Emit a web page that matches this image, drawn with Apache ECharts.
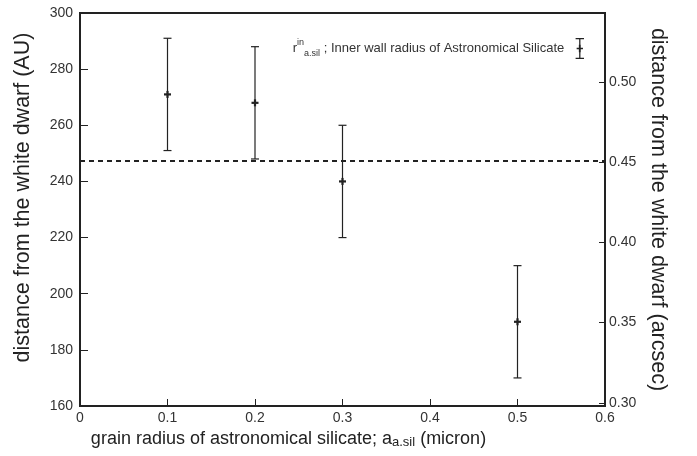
<!DOCTYPE html>
<html>
<head>
<meta charset="utf-8">
<script src="https://cdn.jsdelivr.net/npm/echarts@6/dist/echarts.min.js"></script>
<style>
  html, body { margin: 0; padding: 0; background: #fff; }
  #chart-container { width: 697px; height: 456px; }
</style>
</head>
<body>
<div id="chart-container"></div>
<script>
// grain radius (micron)
var grainRadius = [0.1, 0.2, 0.3, 0.5];
// inner wall radius (AU) and its error range
var innerRadius = [271, 268, 240, 190];
var radiusLow = [251, 248, 220, 170];
var radiusHigh = [291, 288, 260, 210];
// dashed reference distance (AU)
var refDistance = 247.4;
// right axis (arcsec) tick labels
var arcsecTicks = [0.30, 0.35, 0.40, 0.45, 0.50];

var ink = '#222';
var font = 'Liberation Sans, Arial, Helvetica, sans-serif';

var errData = [];
grainRadius.forEach(function (x, i) {
    errData.push([x, innerRadius[i], radiusLow[i], radiusHigh[i]]);
});

// error bar with a small cross at the mean
var renderErrorBar = function (params, api) {
    var mid = api.coord([api.value(0), api.value(1)]);
    var lo = api.coord([api.value(0), api.value(2)]);
    var hi = api.coord([api.value(0), api.value(3)]);
    var cap = 4;
    var line = { stroke: ink, lineWidth: 1.2 };
    var bold = { stroke: ink, lineWidth: 2.2 };
    return {
        type: 'group',
        children: [
            { type: 'line', shape: { x1: hi[0], y1: hi[1], x2: lo[0], y2: lo[1] }, style: line },
            { type: 'line', shape: { x1: hi[0] - cap, y1: hi[1], x2: hi[0] + cap, y2: hi[1] }, style: line },
            { type: 'line', shape: { x1: lo[0] - cap, y1: lo[1], x2: lo[0] + cap, y2: lo[1] }, style: line },
            { type: 'line', shape: { x1: mid[0] - 3.5, y1: mid[1], x2: mid[0] + 3.5, y2: mid[1] }, style: bold },
            { type: 'line', shape: { x1: mid[0], y1: mid[1] - 3.5, x2: mid[0], y2: mid[1] + 3.5 }, style: bold }
        ]
    };
};

var legendIcon = 'path://M0,0H8V1.2H0Z M3.4,0H4.6V20H3.4Z M0,18.8H8V20H0Z M1,9.2H7V10.8H1Z M3.1,6.5H4.9V13.5H3.1Z';

var option = {
    backgroundColor: '#fff',
    animation: false,
    textStyle: { fontFamily: font },
    grid: {
        left: 80, right: 92, top: 13, bottom: 50,
        outerBoundsMode: 'none',
        containLabel: false,
        show: true, borderColor: ink, borderWidth: 2
    },
    legend: {
        right: 108, top: 33,
        align: 'right',
        itemWidth: 9, itemHeight: 21,
        icon: legendIcon,
        itemStyle: { color: ink },
        formatter: function () {
            return 'r{sup|in}{sub|a.sil} ; Inner wall radius of Astronomical Silicate';
        },
        textStyle: {
            fontFamily: font, fontSize: 13, color: '#333', lineHeight: 20,
            padding: [0, 6, 0, 0],
            rich: {
                sup: { fontSize: 9, verticalAlign: 'top', lineHeight: 20, color: '#333', fontFamily: font },
                sub: { fontSize: 9, verticalAlign: 'bottom', lineHeight: 14, color: '#333', fontFamily: font }
            }
        },
        data: ['inner']
    },
    xAxis: {
        type: 'value',
        min: 0, max: 0.6, interval: 0.1,
        axisLine: { lineStyle: { color: ink, width: 2 } },
        axisTick: { inside: true, length: 7, lineStyle: { color: ink, width: 1 } },
        axisLabel: { color: '#333', fontSize: 14, margin: 5, fontFamily: font },
        splitLine: { show: false },
        name: 'grain radius of astronomical silicate; a{sub|a.sil} (micron)',
        nameLocation: 'middle',
        nameGap: 21,
        nameTextStyle: {
            color: '#222', fontSize: 18, fontFamily: font, padding: [0, 108, 0, 0],
            rich: { sub: { fontSize: 13, verticalAlign: 'bottom', padding: [8, 0, 0, 0], fontFamily: font, color: '#222' } }
        }
    },
    yAxis: [{
        type: 'value',
        min: 160, max: 300, interval: 20,
        axisLine: { lineStyle: { color: ink, width: 2 } },
        axisTick: { inside: true, length: 8, lineStyle: { color: ink, width: 1 } },
        axisLabel: { color: '#333', fontSize: 14, margin: 7, fontFamily: font },
        splitLine: { show: false },
        name: 'distance from the white dwarf (AU)',
        nameLocation: 'middle',
        nameGap: 46,
        nameTextStyle: { color: '#222', fontSize: 21.5, fontFamily: font, padding: [0, 0, 0, 24] }
    }, {
        type: 'value',
        position: 'right',
        min: 0.298, max: 0.543,
        axisLine: { show: true, lineStyle: { color: ink, width: 2 } },
        axisTick: { inside: true, length: 6, customValues: arcsecTicks, lineStyle: { color: ink, width: 1 } },
        axisLabel: {
            color: '#333', fontSize: 14, margin: 4, fontFamily: font,
            customValues: arcsecTicks,
            formatter: function (v) { return v.toFixed(2); }
        },
        splitLine: { show: false },
        name: 'distance from the white dwarf (arcsec)',
        nameLocation: 'middle',
        nameRotate: -90,
        nameGap: 40,
        nameTextStyle: { color: '#222', fontSize: 21.5, fontFamily: font }
    }],
    series: [{
        name: 'inner',
        type: 'custom',
        renderItem: renderErrorBar,
        encode: { x: 0, y: [1, 2, 3] },
        itemStyle: { color: ink },
        data: errData,
        z: 3,
        markLine: {
            silent: true,
            symbol: ['none', 'none'],
            label: { show: false },
            lineStyle: { color: ink, width: 2, type: [5, 4] },
            data: [{ yAxis: refDistance }]
        }
    }]
};

var myChart = echarts.init(document.getElementById('chart-container'));
myChart.setOption(option);
</script>
</body>
</html>
